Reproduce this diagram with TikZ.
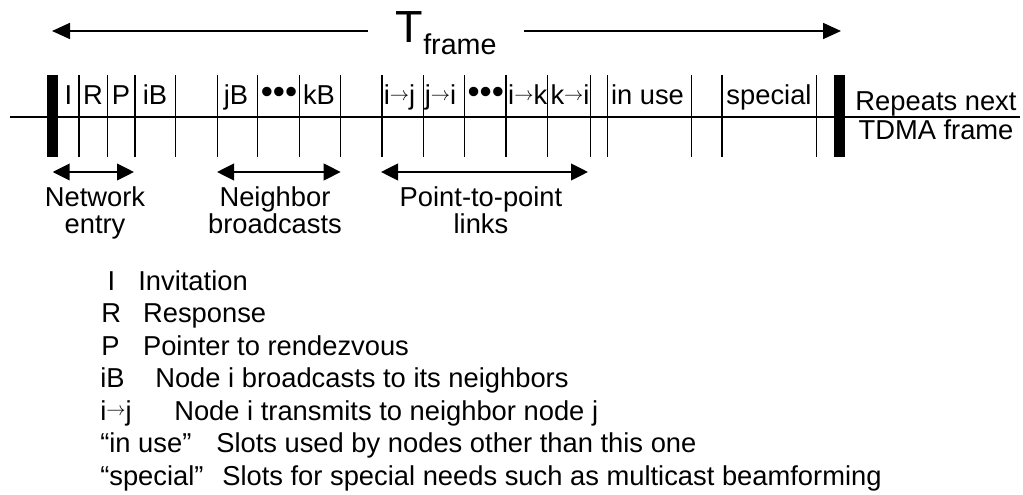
\documentclass[tikz,border=0pt]{standalone}
\usepackage{fontspec}
\setmainfont{Liberation Sans}
\usetikzlibrary{arrows.meta}
\newcommand\slotarrow{\raisebox{3.2pt}{\fontsize{14}{14}\selectfont$\rightarrow$}}
\begin{document}
\begin{tikzpicture}[x=0.75pt,y=-0.75pt,
  txt/.style={font=\fontsize{20.5}{22}\selectfont, inner sep=0pt},
  slot/.style={txt, anchor=base},
  key/.style={txt, anchor=base west},
  grp/.style={txt, font=\fontsize{20.5}{19.7}\selectfont, align=center, anchor=north},
  dots/.style={inner sep=0pt, anchor=base, font=\fontsize{26}{28}\selectfont},
  tick/.style={line width=1.1pt},
  bar/.style={line width=8.25pt},
  arr/.style={line width=1.3pt, -{Triangle[length=13.5pt,width=12pt]}},
  dbl/.style={line width=1.5pt, {Triangle[length=12.75pt,width=12.5pt]}-{Triangle[length=12.75pt,width=12.5pt]}}
]
\useasboundingbox (0,0) rectangle (1023,495);

% T_frame title
\node[inner sep=0pt, anchor=base west, font=\fontsize{33.75}{36}\selectfont] (T) at (395.5,42.3) {T};
\node[inner sep=0pt, anchor=base west, font=\fontsize{21.5}{23}\selectfont] (frame) at (423,55) {frame};
\coordinate (tla) at (368,31);
\coordinate (tlb) at (52,31);
\coordinate (tra) at (524,31);
\coordinate (trb) at (841,31);
\draw[arr] (tla) -- (tlb);
\draw[arr] (tra) -- (trb);

% time axis
\coordinate (axl) at (10,117);
\coordinate (axr) at (1020,117);
\draw[tick] (axl) -- (axr);
\foreach \x in {79,107.3,135,175.7,217.3,257.7,299.3,340.7,382,423.3,464.3,506,547.3,590.7,607.5,691.3,722,816.3}
  \draw[tick] (\x,75) -- (\x,157);
\draw[bar] (52.3,75) -- (52.3,157.5);
\draw[bar] (839.5,75) -- (839.5,157.5);

% slot labels
\node[slot] (sI) at (68.3,105) {I};
\node[slot] (sR) at (93,105) {R};
\node[slot] (sP) at (121,105) {P};
\node[slot] (siB) at (155,105) {iB};
\node[slot] (sjB) at (236,105) {jB};
\node[dots] (d1) at (279,104) {•••};
\node[slot] (skB) at (319,105) {kB};
\node[slot] (sij) at (399.5,105) {i\slotarrow j};
\node[slot] (sji) at (440.5,105) {j\slotarrow i};
\node[dots] (d2) at (485.7,104) {•••};
\node[slot] (sik) at (527.7,105) {i\slotarrow k};
\node[slot] (ski) at (570,105) {k\slotarrow i};
\node[slot] (sinuse) at (647.5,105) {in use};
\node[slot] (sspecial) at (769,105) {special};

\node[txt, align=center, anchor=north, font=\fontsize{20.5}{21.2}\selectfont] (rep) at (936,91.7) {Repeats next\\TDMA frame};

% group arrows
\coordinate (g1a) at (52.7,172); \coordinate (g1b) at (134,172);
\coordinate (g2a) at (217,172); \coordinate (g2b) at (340.7,172);
\coordinate (g3a) at (381,172); \coordinate (g3b) at (588,172);
\draw[dbl] (g1a) -- (g1b);
\draw[dbl] (g2a) -- (g2b);
\draw[dbl] (g3a) -- (g3b);
\node[grp] (gne) at (95,186.7) {Network\\entry};
\node[grp] (gnb) at (275,186.7) {Neighbor\\broadcasts};
\node[grp] (gpp) at (481,186.7) {Point-to-point\\links};

% legend
\node[key] (k1) at (107.4,290) {I};
\node[key] (v1) at (138.1,290) {Invitation};
\node[key] (k2) at (101,322.5) {R};
\node[key] (v2) at (142.8,322.5) {Response};
\node[key] (k3) at (101,355) {P};
\node[key] (v3) at (142.8,355) {Pointer to rendezvous};
\node[key] (k4) at (100,387.5) {iB};
\node[key] (v4) at (155,387.5) {Node i broadcasts to its neighbors};
\node[key] (k5) at (100,420) {i\slotarrow j};
\node[key] (v5) at (174,420) {Node i transmits to neighbor node j};
\node[key] (k6) at (100,452.5) {“in use”};
\node[key] (v6) at (216,452.5) {Slots used by nodes other than this one};
\node[key] (k7) at (100,485) {“special”};
\node[key] (v7) at (222,485) {Slots for special needs such as multicast beamforming};
\end{tikzpicture}
\end{document}
